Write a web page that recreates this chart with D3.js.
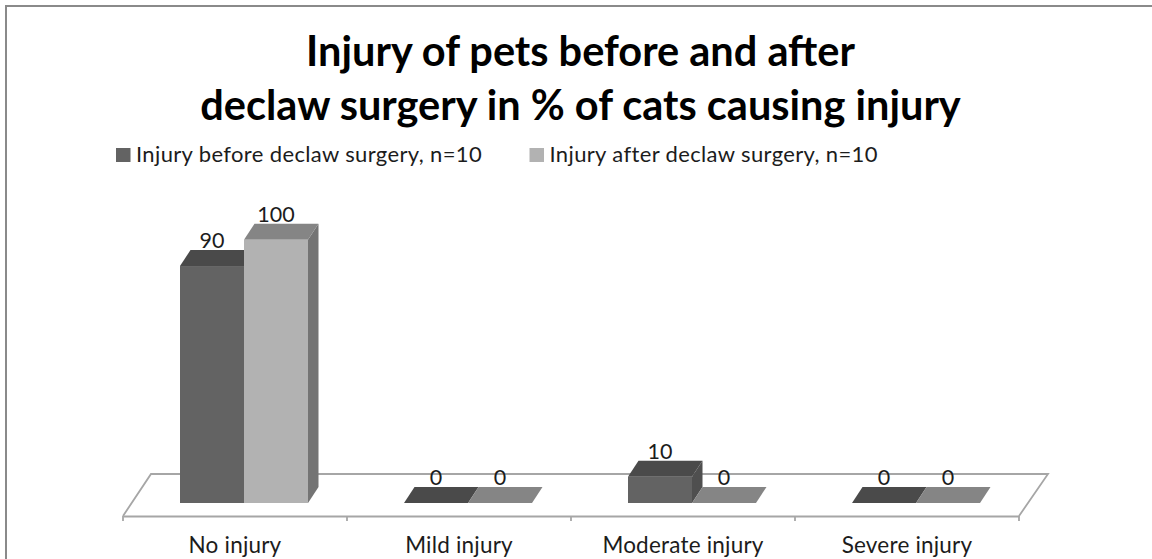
<!DOCTYPE html>
<html>
<head>
<meta charset="utf-8">
<script src="https://cdn.jsdelivr.net/npm/d3@7"></script>
<style>
  html, body { margin: 0; padding: 0; background: #fff; overflow: hidden; }
  text { font-family: Lato, "Open Sans", sans-serif; fill: #1c1c1c; }
</style>
</head>
<body>
<div id="chart"></div>
<script>
// chart data
var categories = ["No injury", "Mild injury", "Moderate injury", "Severe injury"];
var seriesNames = ["Injury before declaw surgery, n=10", "Injury after declaw surgery, n=10"];
var before = [90, 0, 10, 0];
var after = [100, 0, 0, 0];
var titleLines = ["Injury of pets before and after", "declaw surgery in % of cats causing injury"];

var svgWidth = 1152;
var svgHeight = 559;

// floor of the 3d plot
var floor = { left: 123, right: 1019, front: 516, back: 474, skew: 28 };
var baseY = 503;
var depthX = 10.5;
var depthY = 16;

// face colours per series: front, top, side
var faces = [
  { front: "#636363", top: "#4a4a4a", side: "#4f4f4f" },
  { front: "#b2b2b2", top: "#858585", side: "#747474" }
];

var svg = d3.select("#chart")
  .append("svg")
  .attr("width", svgWidth)
  .attr("height", svgHeight);

// outer frame, runs off the right and bottom of the page
svg.append("rect")
  .attr("x", 6)
  .attr("y", 6)
  .attr("width", 1160)
  .attr("height", 570)
  .attr("fill", "#fff")
  .attr("stroke", "#8a8a8a")
  .attr("stroke-width", 2);

// title
svg.selectAll(".title")
  .data(titleLines)
  .enter()
  .append("text")
  .attr("class", "title")
  .attr("x", 580.5)
  .attr("y", (d, i) => 66 + i * 53.5)
  .attr("text-anchor", "middle")
  .attr("font-size", "41.5px")
  .attr("font-weight", "700")
  .style("fill", "#000")
  .text(d => d);

// legend
var legendX = [116, 529.5];
var legend = svg.selectAll(".legend")
  .data(seriesNames)
  .enter()
  .append("g")
  .attr("class", "legend")
  .attr("transform", (d, i) => `translate(${legendX[i]}, 148)`);

legend.append("rect")
  .attr("width", 14.5)
  .attr("height", 14)
  .attr("fill", (d, i) => i == 0 ? faces[0].front : faces[1].front);

legend.append("text")
  .attr("x", 20)
  .attr("y", 14)
  .attr("font-size", "22px")
  .attr("letter-spacing", "0.36px")
  .text(d => d);

// scales
var xScale = d3.scaleBand()
  .domain(categories)
  .range([floor.left, floor.right]);

var seriesScale = d3.scaleBand()
  .domain([0, 1])
  .range([57, 57 + 128]);

var yScale = d3.scaleLinear()
  .domain([0, 100])
  .range([baseY, 239.7]);

// floor outline, drawn before the bars
var floorPath = d3.path();
floorPath.moveTo(floor.left, floor.front);
floorPath.lineTo(floor.left + floor.skew, floor.back);
floorPath.lineTo(floor.right + floor.skew + 1, floor.back);
floorPath.lineTo(floor.right, floor.front);
svg.append("path")
  .attr("d", floorPath.toString())
  .attr("fill", "none")
  .attr("stroke", "#a6a6a6")
  .attr("stroke-width", 1.8);

// category axis along the front edge
var xAxis = d3.axisBottom(xScale)
  .tickSizeInner(0)
  .tickSizeOuter(0);

var axisGroup = svg.append("g")
  .attr("transform", `translate(0, ${floor.front})`)
  .call(xAxis);

axisGroup.select(".domain")
  .attr("stroke", "#a6a6a6")
  .attr("stroke-width", 1.8);

axisGroup.selectAll("text")
  .attr("y", 37)
  .attr("dy", 0)
  .attr("font-size", "22.5px")
  .attr("letter-spacing", "0.2px");

axisGroup.attr("font-family", null).attr("font-size", null);

// tick marks sit on the category boundaries
svg.selectAll(".boundary")
  .data(categories.concat("end"))
  .enter()
  .append("line")
  .attr("class", "boundary")
  .attr("x1", (d, i) => floor.left + i * xScale.bandwidth())
  .attr("x2", (d, i) => floor.left + i * xScale.bandwidth())
  .attr("y1", floor.front)
  .attr("y2", floor.front + 5)
  .attr("stroke", "#a6a6a6")
  .attr("stroke-width", 1.8);

// one flat record per bar
var bars = [];
categories.forEach(function(c, i) {
  [before[i], after[i]].forEach(function(v, s) {
    bars.push({ category: c, series: s, value: v });
  });
});

var barGroup = svg.selectAll(".bar")
  .data(bars)
  .enter()
  .append("g")
  .attr("class", "bar");

function barLeft(d) { return xScale(d.category) + seriesScale(d.series); }
function poly(points) { return points.map(p => p.join(",")).join(" "); }

// side face
barGroup.append("polygon")
  .attr("fill", d => faces[d.series].side)
  .attr("points", function(d) {
    var r = barLeft(d) + seriesScale.bandwidth();
    var t = yScale(d.value);
    return poly([[r, baseY], [r + depthX, baseY - depthY], [r + depthX, t - depthY], [r, t]]);
  });

// top face
barGroup.append("polygon")
  .attr("fill", d => faces[d.series].top)
  .attr("points", function(d) {
    var l = barLeft(d);
    var r = l + seriesScale.bandwidth();
    var t = yScale(d.value);
    return poly([[l, t], [l + depthX, t - depthY], [r + depthX, t - depthY], [r, t]]);
  });

// front face
barGroup.append("rect")
  .attr("x", barLeft)
  .attr("y", d => yScale(d.value))
  .attr("width", seriesScale.bandwidth())
  .attr("height", d => baseY - yScale(d.value))
  .attr("fill", d => faces[d.series].front);

// value labels
svg.selectAll(".value")
  .data(bars)
  .enter()
  .append("text")
  .attr("class", "value")
  .attr("x", d => barLeft(d) + seriesScale.bandwidth() / 2)
  .attr("y", d => yScale(d.value) - depthY - 2)
  .attr("text-anchor", "middle")
  .attr("font-size", "21.5px")
  .text(d => d.value);
</script>
</body>
</html>
